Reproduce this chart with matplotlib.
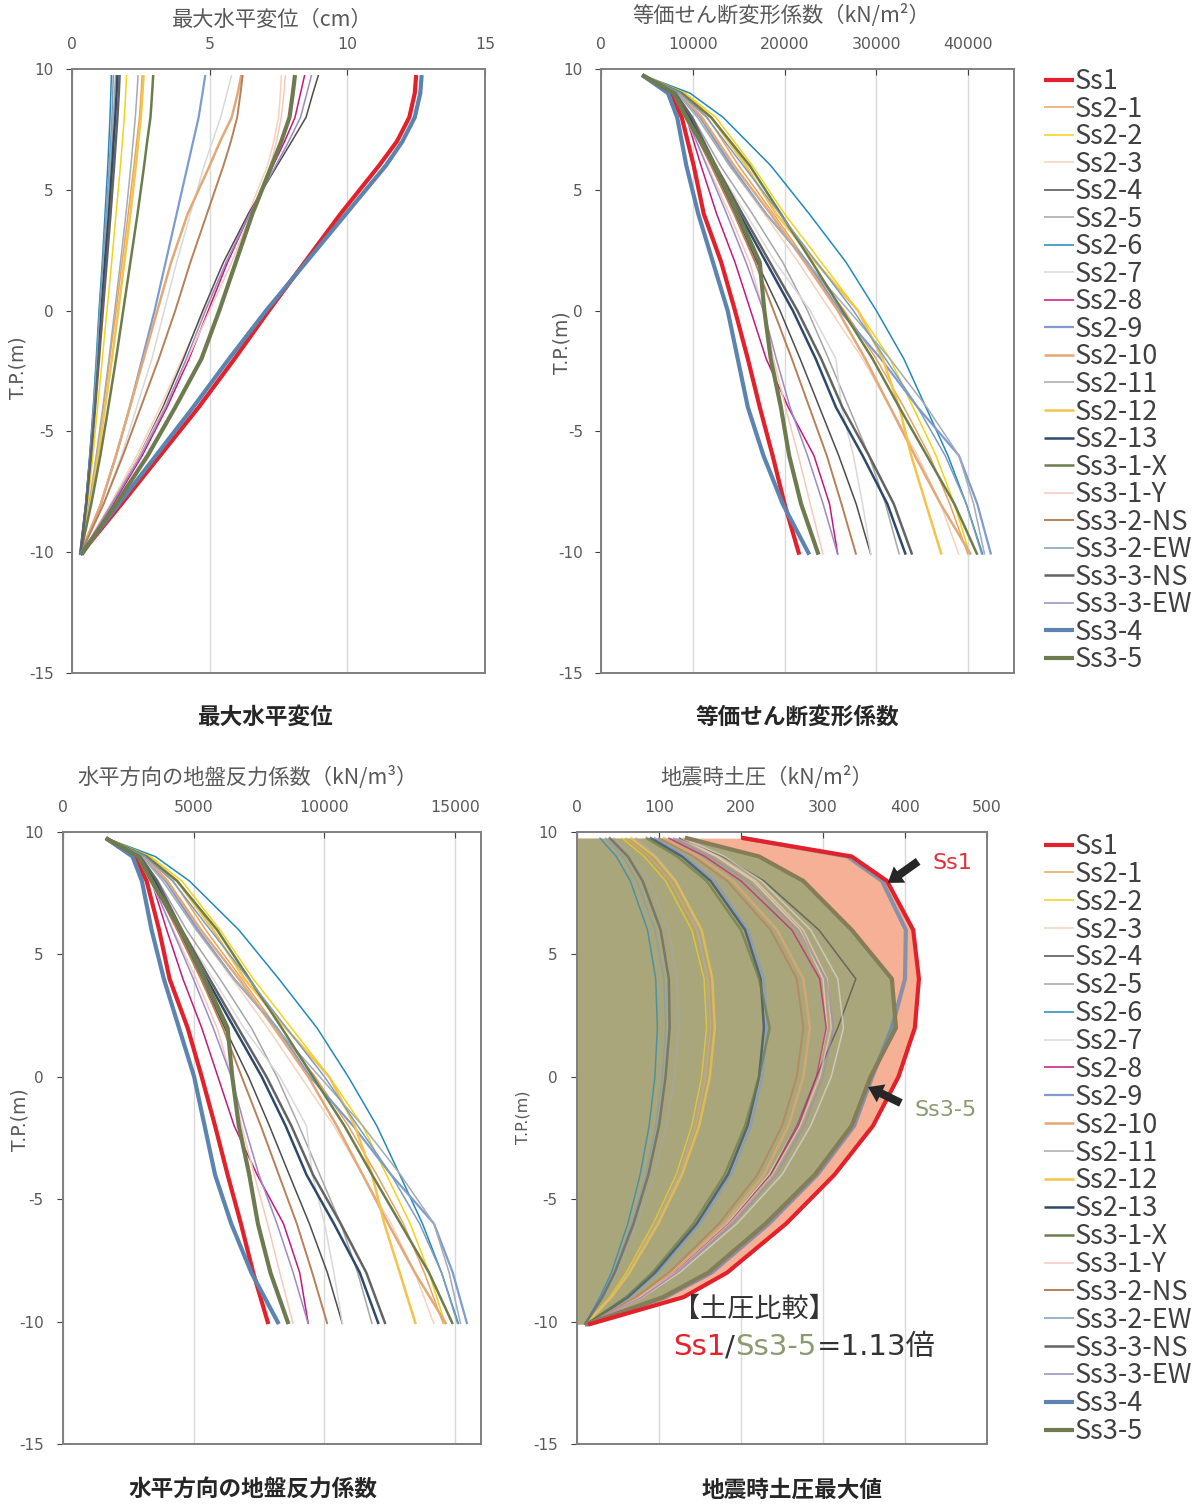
import matplotlib
matplotlib.use("Agg")
import matplotlib.pyplot as plt

plt.rcParams['font.family'] = ['Noto Sans CJK JP', 'DejaVu Sans']
plt.rcParams['axes.unicode_minus'] = False

W, H = 1197, 1505

series_names = ["Ss1", "Ss2-1", "Ss2-2", "Ss2-3", "Ss2-4", "Ss2-5", "Ss2-6", "Ss2-7",
                "Ss2-8", "Ss2-9", "Ss2-10", "Ss2-11", "Ss2-12", "Ss2-13", "Ss3-1-X",
                "Ss3-1-Y", "Ss3-2-NS", "Ss3-2-EW", "Ss3-3-NS", "Ss3-3-EW", "Ss3-4", "Ss3-5"]
line_colors = ["#E4212B", "#E8A45F", "#F2D31A", "#F7D2BC", "#4D4D4D", "#A6A6A6", "#2389B8",
               "#D9D9D9", "#C7177E", "#7E9BD0", "#E3A877", "#A5ABB3", "#F3C34A", "#2E4A6B",
               "#6C7D4B", "#F6C9BD", "#B7805A", "#7F9DB9", "#636363", "#9E8AC2", "#5B84B1",
               "#6E7B4F"]
line_widths = [3.0, 1.1, 1.1, 1.1, 1.1, 1.1, 1.1, 1.1, 1.1, 1.6, 1.8, 1.1, 1.8, 1.8, 1.8,
               1.1, 1.4, 1.1, 1.8, 1.1, 3.0, 3.0]

# T.P.(m) levels of the computed values
depth_disp = [9.75, 9, 8, 7, 6, 4, 2, 0, -2, -4, -6, -8, -10.1]
depth_mod = [9.75, 9, 8, 6, 4, 2, 0, -2, -4, -6, -8, -10.1]
depth_ep = [9.75, 9, 8, 6, 4, 2, 0, -2, -4, -6, -8, -9, -10.1]

# maximum horizontal displacement (cm)
disp_ss1 = [12.5, 12.45, 12.25, 11.8, 11.15, 9.75, 8.45, 7.15, 5.9, 4.6, 3.2, 1.8, 0.3]
disp_ss2_1 = [2.55, 2.51, 2.45, 2.35, 2.25, 2.04, 1.82, 1.6, 1.37, 1.14, 0.9, 0.64, 0.3]
disp_ss2_2 = [1.98, 1.95, 1.9, 1.83, 1.76, 1.6, 1.44, 1.27, 1.1, 0.93, 0.76, 0.57, 0.3]
disp_ss2_3 = [7.6, 7.57, 7.5, 7.33, 7.1, 6.4, 5.6, 4.8, 4.0, 3.2, 2.35, 1.4, 0.32]
disp_ss2_4 = [8.95, 8.75, 8.5, 7.98, 7.45, 6.4, 5.5, 4.75, 4.05, 3.3, 2.45, 1.45, 0.33]
disp_ss2_5 = [1.58, 1.55, 1.5, 1.45, 1.4, 1.28, 1.16, 1.04, 0.92, 0.8, 0.66, 0.5, 0.3]
disp_ss2_6 = [1.43, 1.41, 1.38, 1.34, 1.3, 1.2, 1.1, 0.98, 0.88, 0.77, 0.64, 0.5, 0.3]
disp_ss2_7 = [5.8, 5.63, 5.4, 5.1, 4.8, 4.3, 3.8, 3.35, 2.9, 2.35, 1.8, 1.15, 0.3]
disp_ss2_8 = [8.45, 8.3, 8.1, 7.72, 7.3, 6.45, 5.65, 4.95, 4.25, 3.45, 2.55, 1.5, 0.33]
disp_ss2_9 = [4.84, 4.74, 4.6, 4.4, 4.2, 3.8, 3.4, 3.0, 2.55, 2.1, 1.6, 1.05, 0.3]
disp_ss2_10 = [6.15, 6.02, 5.8, 5.38, 5.0, 4.2, 3.6, 3.1, 2.6, 2.1, 1.6, 1.05, 0.3]
disp_ss2_11 = [2.4, 2.36, 2.3, 2.22, 2.14, 1.96, 1.76, 1.55, 1.34, 1.12, 0.88, 0.62, 0.3]
disp_ss2_12 = [2.6, 2.56, 2.5, 2.41, 2.32, 2.12, 1.9, 1.68, 1.45, 1.2, 0.95, 0.67, 0.3]
disp_ss2_13 = [1.65, 1.62, 1.57, 1.51, 1.46, 1.34, 1.2, 1.07, 0.95, 0.82, 0.67, 0.51, 0.3]
disp_ss3_1x = [2.95, 2.91, 2.85, 2.73, 2.62, 2.38, 2.12, 1.86, 1.6, 1.32, 1.03, 0.7, 0.3]
disp_ss3_1y = [7.75, 7.7, 7.6, 7.43, 7.2, 6.5, 5.8, 5.0, 4.2, 3.35, 2.45, 1.45, 0.32]
disp_ss3_2ns = [6.2, 6.12, 6.0, 5.77, 5.5, 4.9, 4.3, 3.75, 3.15, 2.5, 1.85, 1.15, 0.3]
disp_ss3_2ew = [1.5, 1.48, 1.45, 1.4, 1.35, 1.24, 1.12, 1.0, 0.9, 0.78, 0.65, 0.5, 0.3]
disp_ss3_3ns = [1.73, 1.7, 1.65, 1.59, 1.53, 1.4, 1.26, 1.12, 0.98, 0.84, 0.69, 0.52, 0.3]
disp_ss3_3ew = [8.7, 8.53, 8.3, 7.87, 7.4, 6.45, 5.6, 4.85, 4.15, 3.4, 2.5, 1.45, 0.33]
disp_ss3_4 = [12.7, 12.65, 12.45, 12.0, 11.4, 9.95, 8.5, 7.05, 5.7, 4.4, 3.05, 1.7, 0.3]
disp_ss3_5 = [8.1, 8.02, 7.9, 7.6, 7.25, 6.55, 5.95, 5.35, 4.7, 3.75, 2.75, 1.6, 0.35]

# equivalent shear modulus (kN/m2)
shear_ss1 = [4500, 7500, 8800, 10100, 11200, 13100, 14600, 16000, 17300, 18700, 20000, 21600]
shear_ss2_1 = [4500, 8800, 11600, 15000, 18800, 22500, 26500, 30000, 33000, 35800, 38000, 40000]
shear_ss2_2 = [4500, 9200, 12500, 16500, 20000, 24000, 28000, 31500, 34000, 36500, 38500, 40200]
shear_ss2_3 = [4500, 8300, 10500, 14000, 17800, 21500, 25000, 28500, 31500, 34500, 37000, 39000]
shear_ss2_4 = [4500, 8000, 9500, 12200, 14600, 17000, 19500, 21700, 23800, 25900, 27800, 29400]
shear_ss2_5 = [4500, 8200, 10000, 13000, 16500, 19800, 22500, 24800, 27000, 29200, 31000, 32500]
shear_ss2_6 = [4500, 9700, 13300, 18500, 22700, 26700, 30000, 33000, 35400, 37800, 39800, 41600]
shear_ss2_7 = [4500, 8000, 9600, 12500, 15800, 19000, 22800, 25600, 26200, 27500, 28500, 29400]
shear_ss2_8 = [4500, 7800, 9300, 10900, 12600, 14600, 16300, 18000, 20400, 23200, 24900, 25800]
shear_ss2_9 = [4500, 8500, 10800, 14200, 18000, 22500, 26000, 30500, 34500, 39000, 41000, 42500]
shear_ss2_10 = [4500, 8600, 11000, 14500, 18500, 22200, 25800, 28800, 31500, 34200, 37000, 40300]
shear_ss2_11 = [4500, 8300, 10500, 14000, 18000, 22400, 27000, 31500, 35500, 39000, 40600, 41800]
shear_ss2_12 = [4500, 9000, 12000, 15800, 19100, 23400, 28000, 30700, 32500, 33800, 35400, 37100]
shear_ss2_13 = [4500, 8000, 9700, 12200, 15100, 18000, 20900, 23400, 25600, 28500, 31200, 33200]
shear_ss3_1x = [4500, 8800, 12000, 16200, 19600, 23000, 26300, 29600, 32500, 35500, 38500, 41000]
shear_ss3_1y = [4500, 7800, 9200, 11600, 14000, 16200, 17700, 18800, 20100, 21500, 22800, 24200]
shear_ss3_2ns = [4500, 7900, 9400, 12000, 14500, 16800, 18800, 20800, 22700, 24600, 26200, 27800]
shear_ss3_2ew = [4500, 8600, 11500, 15500, 19500, 23500, 27500, 31000, 34500, 37500, 39800, 41500]
shear_ss3_3ns = [4500, 8100, 9900, 12500, 15400, 18400, 21400, 24000, 26300, 29200, 31900, 33900]
shear_ss3_3ew = [4500, 7900, 9300, 11500, 13700, 15800, 17700, 19100, 20600, 22500, 24200, 25800]
shear_ss3_4 = [4500, 7300, 8300, 9300, 10600, 12200, 13800, 14900, 16000, 17700, 19800, 22700]
shear_ss3_5 = [4500, 7900, 9300, 12400, 14900, 17300, 17800, 18500, 19600, 20500, 21800, 23700]

# horizontal coefficient of subgrade reaction (kN/m3)
kh_ss1 = [1640, 2730, 3200, 3680, 4080, 4770, 5310, 5820, 6300, 6810, 7280, 7860]
kh_ss2_1 = [1640, 3200, 4220, 5460, 6840, 8190, 9650, 10920, 12010, 13030, 13830, 14560]
kh_ss2_2 = [1640, 3350, 4550, 6010, 7280, 8740, 10190, 11470, 12380, 13290, 14010, 14630]
kh_ss2_3 = [1640, 3020, 3820, 5100, 6480, 7830, 9100, 10370, 11470, 12560, 13470, 14200]
kh_ss2_4 = [1640, 2910, 3460, 4440, 5310, 6190, 7100, 7900, 8660, 9430, 10120, 10700]
kh_ss2_5 = [1640, 2980, 3640, 4730, 6010, 7210, 8190, 9030, 9830, 10630, 11280, 11830]
kh_ss2_6 = [1640, 3530, 4840, 6730, 8260, 9720, 10920, 12010, 12890, 13760, 14490, 15140]
kh_ss2_7 = [1640, 2910, 3490, 4550, 5750, 6920, 8300, 9320, 9540, 10010, 10370, 10700]
kh_ss2_8 = [1640, 2840, 3390, 3970, 4590, 5310, 5930, 6550, 7430, 8440, 9060, 9390]
kh_ss2_9 = [1640, 3090, 3930, 5170, 6550, 8190, 9460, 11100, 12560, 14200, 14920, 15470]
kh_ss2_10 = [1640, 3130, 4000, 5280, 6730, 8080, 9390, 10480, 11470, 12450, 13470, 14670]
kh_ss2_11 = [1640, 3020, 3820, 5100, 6550, 8150, 9830, 11470, 12920, 14200, 14780, 15220]
kh_ss2_12 = [1640, 3280, 4370, 5750, 6950, 8520, 10190, 11170, 11830, 12300, 12890, 13500]
kh_ss2_13 = [1640, 2910, 3530, 4440, 5500, 6550, 7610, 8520, 9320, 10370, 11360, 12080]
kh_ss3_1x = [1640, 3200, 4370, 5900, 7130, 8370, 9570, 10770, 11830, 12920, 14010, 14920]
kh_ss3_1y = [1640, 2840, 3350, 4220, 5100, 5900, 6440, 6840, 7320, 7830, 8300, 8810]
kh_ss3_2ns = [1640, 2880, 3420, 4370, 5280, 6120, 6840, 7570, 8260, 8950, 9540, 10120]
kh_ss3_2ew = [1640, 3130, 4190, 5640, 7100, 8550, 10010, 11280, 12560, 13650, 14490, 15110]
kh_ss3_3ns = [1640, 2950, 3600, 4550, 5610, 6700, 7790, 8740, 9570, 10630, 11610, 12340]
kh_ss3_3ew = [1640, 2880, 3390, 4190, 4990, 5750, 6440, 6950, 7500, 8190, 8810, 9390]
kh_ss3_4 = [1640, 2660, 3020, 3390, 3860, 4440, 5020, 5420, 5820, 6440, 7210, 8260]
kh_ss3_5 = [1640, 2880, 3390, 4510, 5420, 6300, 6480, 6730, 7130, 7460, 7940, 8630]

# maximum seismic earth pressure (kN/m2)
ep_ss1 = [203, 335, 378, 410, 417, 412, 392, 361, 314, 255, 183, 130, 16]
ep_ss2_1 = [60, 88, 114, 146, 160, 163, 157, 145, 125, 96, 62, 41, 11]
ep_ss2_2 = [55, 82, 108, 140, 155, 158, 152, 140, 121, 93, 60, 40, 11]
ep_ss2_3 = [125, 170, 215, 272, 300, 305, 292, 268, 234, 183, 118, 76, 13]
ep_ss2_4 = [125, 178, 228, 295, 340, 318, 292, 268, 236, 185, 119, 77, 13]
ep_ss2_5 = [45, 68, 88, 112, 122, 124, 119, 109, 94, 73, 48, 32, 10]
ep_ss2_6 = [28, 48, 65, 86, 96, 98, 95, 88, 77, 62, 42, 28, 10]
ep_ss2_7 = [130, 180, 225, 285, 318, 325, 310, 285, 250, 195, 125, 80, 13]
ep_ss2_8 = [112, 156, 200, 262, 296, 304, 292, 270, 237, 186, 120, 78, 13]
ep_ss2_9 = [95, 132, 168, 208, 228, 232, 226, 212, 188, 150, 98, 64, 12]
ep_ss2_10 = [106, 148, 190, 244, 276, 284, 276, 258, 228, 180, 116, 75, 13]
ep_ss2_11 = [72, 98, 122, 148, 158, 160, 155, 143, 124, 96, 62, 41, 11]
ep_ss2_12 = [66, 95, 120, 152, 165, 168, 162, 149, 128, 99, 64, 42, 11]
ep_ss2_13 = [90, 128, 163, 205, 224, 228, 222, 208, 184, 146, 95, 62, 12]
ep_ss3_1x = [85, 122, 158, 200, 222, 235, 222, 205, 180, 142, 92, 60, 12]
ep_ss3_1y = [128, 172, 218, 276, 305, 310, 296, 272, 238, 186, 120, 77, 13]
ep_ss3_2ns = [100, 142, 183, 236, 268, 276, 268, 250, 220, 173, 112, 72, 13]
ep_ss3_2ew = [35, 56, 73, 95, 106, 108, 104, 96, 84, 67, 45, 30, 10]
ep_ss3_3ns = [40, 62, 80, 102, 112, 113, 108, 100, 87, 69, 46, 31, 10]
ep_ss3_3ew = [118, 162, 208, 270, 304, 313, 300, 277, 243, 190, 122, 79, 13]
ep_ss3_4 = [203, 330, 372, 401, 400, 384, 360, 338, 293, 234, 164, 108, 14]
ep_ss3_5 = [134, 222, 276, 335, 384, 389, 358, 335, 290, 230, 160, 105, 12]

disp_all = [disp_ss1, disp_ss2_1, disp_ss2_2, disp_ss2_3, disp_ss2_4, disp_ss2_5, disp_ss2_6,
            disp_ss2_7, disp_ss2_8, disp_ss2_9, disp_ss2_10, disp_ss2_11, disp_ss2_12,
            disp_ss2_13, disp_ss3_1x, disp_ss3_1y, disp_ss3_2ns, disp_ss3_2ew, disp_ss3_3ns,
            disp_ss3_3ew, disp_ss3_4, disp_ss3_5]
shear_all = [shear_ss1, shear_ss2_1, shear_ss2_2, shear_ss2_3, shear_ss2_4, shear_ss2_5,
             shear_ss2_6, shear_ss2_7, shear_ss2_8, shear_ss2_9, shear_ss2_10, shear_ss2_11,
             shear_ss2_12, shear_ss2_13, shear_ss3_1x, shear_ss3_1y, shear_ss3_2ns,
             shear_ss3_2ew, shear_ss3_3ns, shear_ss3_3ew, shear_ss3_4, shear_ss3_5]
kh_all = [kh_ss1, kh_ss2_1, kh_ss2_2, kh_ss2_3, kh_ss2_4, kh_ss2_5, kh_ss2_6, kh_ss2_7,
          kh_ss2_8, kh_ss2_9, kh_ss2_10, kh_ss2_11, kh_ss2_12, kh_ss2_13, kh_ss3_1x,
          kh_ss3_1y, kh_ss3_2ns, kh_ss3_2ew, kh_ss3_3ns, kh_ss3_3ew, kh_ss3_4, kh_ss3_5]
ep_all = [ep_ss1, ep_ss2_1, ep_ss2_2, ep_ss2_3, ep_ss2_4, ep_ss2_5, ep_ss2_6, ep_ss2_7,
          ep_ss2_8, ep_ss2_9, ep_ss2_10, ep_ss2_11, ep_ss2_12, ep_ss2_13, ep_ss3_1x,
          ep_ss3_1y, ep_ss3_2ns, ep_ss3_2ew, ep_ss3_3ns, ep_ss3_3ew, ep_ss3_4, ep_ss3_5]

TICK_FONT = ['DejaVu Sans']
GRAY_TXT = '#595959'


def box(left, top, right, bottom):
    return [left / W, 1 - bottom / H, (right - left) / W, (bottom - top) / H]


def style_axes(ax, xmax, xticks, ypad):
    ax.set_xlim(0, xmax)
    ax.set_ylim(-15, 10)
    ax.xaxis.tick_top()
    ax.set_xticks(xticks)
    ax.set_yticks([-15, -10, -5, 0, 5, 10])
    ax.grid(axis='x', color='#D9D9D9', lw=1.0)
    ax.set_axisbelow(True)
    for sp in ax.spines.values():
        sp.set_color('#7F7F7F')
        sp.set_linewidth(1.4)
    ax.tick_params(axis='x', top=True, bottom=False, direction='in', length=4,
                   color='#404040', labelsize=11.3, labelcolor=GRAY_TXT, pad=12)
    ax.tick_params(axis='y', direction='out', length=4, color='#404040',
                   labelsize=11, labelcolor=GRAY_TXT, pad=ypad)
    for lab in ax.get_xticklabels() + ax.get_yticklabels():
        lab.set_family(TICK_FONT)


fig = plt.figure(figsize=(W / 100, H / 100), dpi=100)

ax1 = fig.add_axes(box(72, 69, 485, 673))
ax2 = fig.add_axes(box(601, 69, 1014, 673))
ax3 = fig.add_axes(box(63, 832, 481, 1444))
ax4 = fig.add_axes(box(577, 832, 987, 1444))

style_axes(ax1, 15, [0, 5, 10, 15], 9)
style_axes(ax2, 45000, [0, 10000, 20000, 30000, 40000], 9)
style_axes(ax3, 16000, [0, 5000, 10000, 15000], 10)
style_axes(ax4, 500, [0, 100, 200, 300, 400, 500], 10)

handles = []
for i, name in enumerate(series_names):
    ln, = ax1.plot(disp_all[i], depth_disp, color=line_colors[i], lw=line_widths[i],
                   solid_capstyle='butt', solid_joinstyle='round', label=name)
    handles.append(ln)
    ax2.plot(shear_all[i], depth_mod, color=line_colors[i], lw=line_widths[i],
             solid_capstyle='butt', solid_joinstyle='round')
    ax3.plot(kh_all[i], depth_mod, color=line_colors[i], lw=line_widths[i],
             solid_capstyle='butt', solid_joinstyle='round')

# earth pressure panel: envelopes of Ss1 and Ss3-5 shaded
ax4.fill_betweenx(depth_ep, 0, ep_ss1, color='#F5B096', lw=0, zorder=1)
ax4.fill_betweenx(depth_ep, 0, ep_ss3_5, color='#A9A67B', lw=0, zorder=2)
for i, name in enumerate(series_names):
    if name in ("Ss1", "Ss3-5"):
        continue
    ax4.plot(ep_all[i], depth_ep, color=line_colors[i], lw=line_widths[i], alpha=0.7,
             solid_joinstyle='round', zorder=3)
ax4.plot(ep_ss3_5, depth_ep, color='#857C58', lw=3.0, solid_joinstyle='round', zorder=4)
ax4.plot(ep_ss1, depth_ep, color=line_colors[0], lw=3.0, solid_joinstyle='round', zorder=5)

arrow_style = dict(arrowstyle='simple,head_length=0.8,head_width=1.1,tail_width=0.45',
                   color='#262626', lw=0, shrinkA=0, shrinkB=0, mutation_scale=13)
ax4.annotate('', xy=(379, 7.92), xytext=(416, 8.8), arrowprops=arrow_style, zorder=6)
ax4.annotate('', xy=(355, -0.42), xytext=(395, -1.07), arrowprops=arrow_style, zorder=6)
ax4.text(458, 8.75, 'Ss1', color='#E0303A', fontsize=16, ha='center', va='center',
         family=TICK_FONT, zorder=6)
ax4.text(450, -1.35, 'Ss3-5', color='#8C9A70', fontsize=16, ha='center', va='center',
         family=TICK_FONT, zorder=6)

ax4.text(117, -9.5, '【土圧比較】', color='#333333', fontsize=19.5, ha='left',
         va='center', zorder=6)
mix_font = ['DejaVu Sans', 'Noto Sans CJK JP']
t1 = ax4.text(117, -11.05, 'Ss1', color='#E8202D', fontsize=21, ha='left', va='center',
              family=mix_font, zorder=6)
t2 = ax4.annotate('/', xy=(1, 0), xycoords=t1, ha='left', va='bottom', color='#333333',
                  fontsize=21, family=mix_font)
t3 = ax4.annotate('Ss3-5', xy=(1, 0), xycoords=t2, ha='left', va='bottom', color='#8C9A70',
                  fontsize=21, family=mix_font)
ax4.annotate('=1.13倍', xy=(1, 0), xycoords=t3, ha='left', va='bottom', color='#333333',
             fontsize=21, family=mix_font)

# headings above and captions below each panel
top_titles = [("最大水平変位（cm）", 272, 20), ("等価せん断変形係数（kN/m²）", 781, 16),
              ("水平方向の地盤反力係数（kN/m³）", 247, 778), ("地震時土圧（kN/m²）", 767, 778)]
for txt, x, y in top_titles:
    fig.text(x / W, 1 - y / H, txt, ha='center', va='center', fontsize=15.3, color=GRAY_TXT)

captions = [("最大水平変位", 265, 717), ("等価せん断変形係数", 797, 717),
            ("水平方向の地盤反力係数", 253, 1490), ("地震時土圧最大値", 792, 1490)]
for txt, x, y in captions:
    fig.text(x / W, 1 - y / H, txt, ha='center', va='center', fontsize=16.3,
             fontweight='bold', color='#262626')

for x, y, fs in [(18, 368, 13.5), (562, 343, 13.5), (20, 1120, 13.5), (523, 1117, 11.5)]:
    fig.text(x / W, 1 - y / H, 'T.P.(m)', rotation=90, ha='center', va='center',
             fontsize=fs, color=GRAY_TXT, family=TICK_FONT)

legend_font = dict(family=['Noto Sans CJK JP', 'DejaVu Sans'], size=19.5)
for ytop, spacing in ((68, 0.02), (833, 0.032)):
    fig.legend(handles, series_names, loc='upper left', bbox_to_anchor=(1044 / W, 1 - ytop / H),
               frameon=False, prop=legend_font, handlelength=1.1, handletextpad=0.05,
               labelspacing=spacing, borderaxespad=0, borderpad=0, labelcolor='#404040')

fig.savefig('out.png', dpi=100)
